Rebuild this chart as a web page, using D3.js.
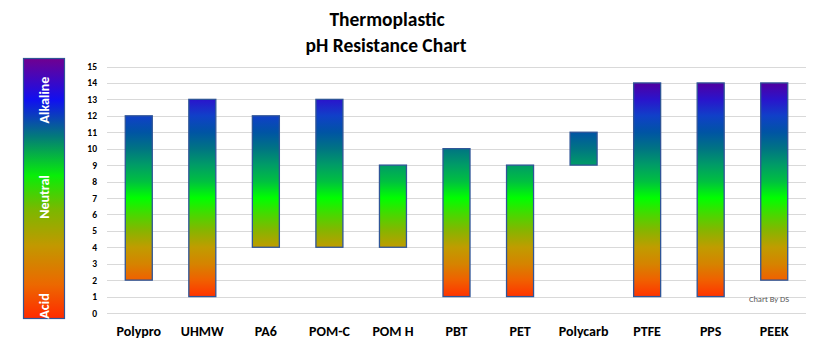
<!DOCTYPE html>
<html><head><meta charset="utf-8">
<script src="https://cdn.jsdelivr.net/npm/d3@7"></script>
<style>body{margin:0;background:#fff}svg{display:block}</style>
</head><body><svg id="c" width="825" height="360"></svg>
<script>
const categories = ["Polypro","UHMW","PA6","POM-C","POM H","PBT","PET","Polycarb","PTFE","PPS","PEEK"];
const phLow  = [2,1,4,4,4,1,1,9,1,1,2];
const phHigh = [12,13,12,13,9,10,9,11,14,14,14];
const yTicks = d3.range(0,16);
const phStops = [0,1,2,3,4,5,6,7,8,9,10,11,12,13,14];
const phColors = ["#ff2000","#ff3300","#f06000","#d58400","#c09c00","#88b400","#48d800","#00ff00","#00c040","#009c66","#007483","#0054a4","#1040c8","#2a14cc","#5000a0"];
const legendOffsets = [0,0.16,0.3,0.45,0.58,0.72,0.87,1];
const legendColors = ["#700090","#1010f0","#037a7a","#08ee08","#7ab800","#c29800","#ec6800","#ff2a00"];

const svg = d3.select("#c");
const font = "Calibri, Lato, 'Open Sans', sans-serif";
const x = d3.scaleBand().domain(categories).range([107,806]).paddingInner(0.575).paddingOuter(0.2875);
const y = d3.scaleLinear().domain([0,15]).range([313,66.5]);

const defs = svg.append("defs");
const g1 = defs.append("linearGradient").attr("id","ph").attr("gradientUnits","userSpaceOnUse")
  .attr("x1",0).attr("x2",0).attr("y1",y(0)).attr("y2",y(14));
phStops.forEach((p,i)=>g1.append("stop").attr("offset",p/14).attr("stop-color",phColors[i]));
const g2 = defs.append("linearGradient").attr("id","leg").attr("x1",0).attr("x2",0).attr("y1",0).attr("y2",1);
legendOffsets.forEach((o,i)=>g2.append("stop").attr("offset",o).attr("stop-color",legendColors[i]));

// title
svg.append("text").attr("x",387).attr("y",26).attr("text-anchor","middle")
  .attr("font-family",font).attr("font-weight","bold").attr("font-size",19.5).text("Thermoplastic");
svg.append("text").attr("x",386).attr("y",52).attr("text-anchor","middle")
  .attr("font-family",font).attr("font-weight","bold").attr("font-size",19.5).text("pH Resistance Chart");

// legend
svg.append("rect").attr("x",23.5).attr("y",58.5).attr("width",41).attr("height",260)
  .attr("fill","url(#leg)").attr("stroke","#2f5597").attr("stroke-width",1.2);
[["Alkaline",100],["Neutral",197],["Acid",306]].forEach(([t,cy])=>{
  svg.append("text").attr("transform",`translate(49,${cy}) rotate(-90)`).attr("text-anchor","middle")
    .attr("font-family",font).attr("font-weight","bold").attr("font-size",14).attr("fill","#fff").text(t);
});

// grid
svg.append("g").selectAll("line").data(yTicks).join("line")
  .attr("x1",107).attr("x2",806).attr("y1",d=>Math.round(y(d))+0.5).attr("y2",d=>Math.round(y(d))+0.5)
  .attr("stroke","#d9d9d9").attr("stroke-width",1);

// y axis
const ya = svg.append("g").attr("transform","translate(99,0)")
  .call(d3.axisLeft(y).tickValues(yTicks).tickSize(0).tickPadding(2));
ya.select(".domain").remove();
ya.selectAll("text").attr("font-family",font).attr("font-weight","bold").attr("font-size",9.5).attr("fill","#000");

// bars
svg.append("g").selectAll("rect").data(categories).join("rect")
  .attr("x",d=>x(d)).attr("width",x.bandwidth())
  .attr("y",(d,i)=>y(phHigh[i])).attr("height",(d,i)=>y(phLow[i])-y(phHigh[i]))
  .attr("fill","url(#ph)").attr("stroke","#2f5597").attr("stroke-width",1.3);

// x labels
const xa = svg.append("g").attr("transform","translate(0,322)")
  .call(d3.axisBottom(x).tickSize(0).tickPadding(4));
xa.select(".domain").remove();
xa.selectAll("text").attr("font-family",font).attr("font-weight","bold").attr("font-size",14).attr("fill","#000");

svg.append("text").attr("x",769).attr("y",302).attr("text-anchor","middle")
  .attr("font-family",font).attr("font-size",8.5).attr("fill","#595959").text("Chart By DS");
</script></body></html>
